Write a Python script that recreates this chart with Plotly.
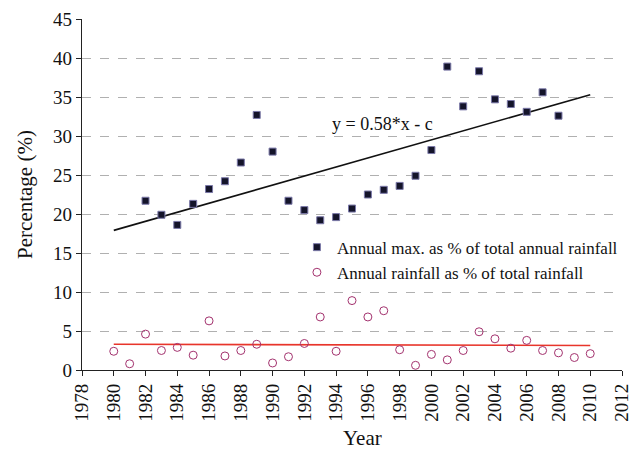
import plotly.graph_objects as go

years = list(range(1980, 2011))
annual_max_years = list(range(1982, 2009))
annual_max_pct = [21.7, 19.9, 18.6, 21.3, 23.2, 24.2, 26.6, 32.7, 28.0, 21.7, 20.5, 19.2,
                  19.6, 20.7, 22.5, 23.1, 23.6, 24.9, 28.2, 38.9, 33.8, 38.3, 34.7, 34.1,
                  33.1, 35.6, 32.6]
annual_rain_pct = [2.4, 0.8, 4.6, 2.5, 2.9, 1.9, 6.3, 1.8, 2.5, 3.3, 0.9, 1.7, 3.4, 6.8,
                   2.4, 8.9, 6.8, 7.6, 2.6, 0.6, 2.0, 1.3, 2.5, 4.9, 4.0, 2.8, 3.8, 2.5,
                   2.2, 1.6, 2.1]
trend_max_x = [1980, 2010]
trend_max_y = [17.9, 35.3]
trend_rain_x = [1980, 2010]
trend_rain_y = [3.3, 3.15]
x_ticks = list(range(1978, 2013, 2))
y_ticks = list(range(0, 46, 5))

FONT = "Liberation Serif"

fig = go.Figure()
fig.add_trace(go.Scatter(x=trend_max_x, y=trend_max_y, mode="lines",
                         line=dict(color="#111111", width=1.6), showlegend=False,
                         hoverinfo="skip"))
fig.add_trace(go.Scatter(x=trend_rain_x, y=trend_rain_y, mode="lines",
                         line=dict(color="#e8352b", width=1.6), showlegend=False,
                         hoverinfo="skip"))
fig.add_trace(go.Scatter(x=annual_max_years, y=annual_max_pct, mode="markers",
                         name="Annual max. as % of total annual rainfall",
                         marker=dict(symbol="square", size=7, color="#14142a",
                                     line=dict(color="#7a78a8", width=1))))
fig.add_trace(go.Scatter(x=years, y=annual_rain_pct, mode="markers",
                         name="Annual rainfall as % of total rainfall",
                         marker=dict(symbol="circle-open", size=8, color="#a3326e",
                                     line=dict(width=1))))

fig.update_layout(
    width=637, height=450,
    margin=dict(l=82, r=15, t=19, b=80, autoexpand=False),
    paper_bgcolor="white", plot_bgcolor="white",
    font=dict(family=FONT, size=17, color="#111111"),
    legend=dict(x=0.398, y=0.40, xanchor="left", yanchor="top",
                bgcolor="white", font=dict(family=FONT, size=17, color="#111111"),
                itemwidth=30, tracegroupgap=0),
)
fig.add_annotation(x=1996.9, y=31.5, xref="x", yref="y", text="y = 0.58*x - c",
                   showarrow=False, font=dict(family=FONT, size=18, color="#111111"),
                   bgcolor="white", borderpad=1)
fig.add_annotation(x=(362 - 82) / 540, y=-0.195, xref="paper", yref="paper", text="Year",
                   showarrow=False, font=dict(family=FONT, size=21, color="#111111"),
                   yanchor="middle")

fig.update_xaxes(range=[1978, 2012], tickmode="array", tickvals=x_ticks,
                 ticktext=[str(t) for t in x_ticks], tickangle=-90,
                 showline=True, linecolor="#222222", linewidth=1.2,
                 ticks="outside", ticklen=5, tickcolor="#222222",
                 showgrid=False, zeroline=False,
                 tickfont=dict(family=FONT, size=19, color="#111111"))
fig.update_yaxes(range=[0, 45], tickmode="array", tickvals=y_ticks,
                 showline=True, linecolor="#222222", linewidth=1.2,
                 ticks="outside", ticklen=5, tickcolor="#222222",
                 showgrid=True, gridcolor="#b0b0b0", griddash="dash", gridwidth=1,
                 zeroline=False,
                 title=dict(text="Percentage (%)", font=dict(family=FONT, size=21, color="#111111"),
                            standoff=14),
                 tickfont=dict(family=FONT, size=19, color="#111111"))

fig.write_html("out.html", config={"displayModeBar": False})
